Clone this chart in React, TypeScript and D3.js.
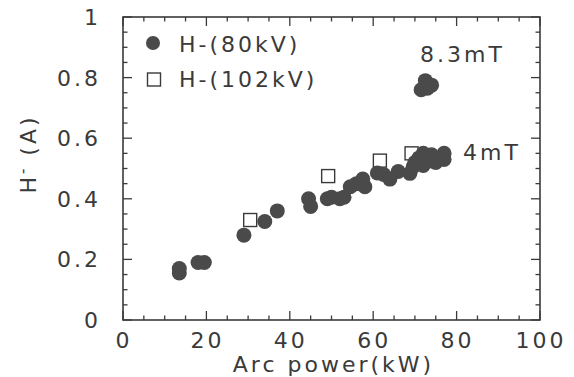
import React from 'react';
import * as d3 from 'd3';

// H- beam current vs arc power
const power80 = [13.5, 13.5, 18, 19.5, 29, 34, 37, 44.5, 45, 49, 50, 52, 53, 54.5, 56, 57.5, 58, 61, 62.5, 64, 66, 68.8, 69.6,
  70, 71, 72, 73, 74, 75, 76, 77, 77, 72, 74, 71.5, 72.5, 74, 73];
const current80 = [0.17, 0.155, 0.19, 0.19, 0.28, 0.325, 0.36, 0.4, 0.375, 0.4, 0.405, 0.4, 0.405, 0.44, 0.45, 0.465, 0.44, 0.485, 0.48, 0.465, 0.49, 0.484, 0.506,
  0.52, 0.535, 0.51, 0.53, 0.525, 0.52, 0.535, 0.55, 0.53, 0.55, 0.545, 0.76, 0.79, 0.775, 0.765];
const power102 = [30.5, 49.2, 61.6, 69.2];
const current102 = [0.33, 0.475, 0.526, 0.55];

const xTicks = [0, 20, 40, 60, 80, 100];
const yTicks = [0, 0.2, 0.4, 0.6, 0.8, 1];
const xLabels = ['0', '20', '40', '60', '80', '100'];
const yLabels = ['0', '0.2', '0.4', '0.6', '0.8', '1'];

const W = 574, H = 377;
const margin = { top: 17, right: 34, bottom: 57, left: 123 };
const ink = '#3a3a3a';
const font = 'DejaVu Sans, sans-serif';

export default function App() {
  const x = d3.scaleLinear().domain([0, 100]).range([margin.left, W - margin.right]);
  const y = d3.scaleLinear().domain([0, 1]).range([H - margin.bottom, margin.top]);
  const [x0, x1] = x.range();
  const [y0, y1] = y.range();

  const xMinor = d3.range(0, 100.01, 5);
  const yMinor = d3.range(0, 1.001, 0.05);
  const isMajorX = (v: number) => Math.abs(v % 20) < 0.01;
  const isMajorY = (v: number) => Math.abs(Math.round(v * 100) % 20) < 0.5;

  const textStyle = { fontFamily: font, fontSize: 22, fill: ink, letterSpacing: 3 };

  return (
    <svg width={W} height={H} style={{ position: 'absolute', left: 0, top: 0, background: '#fff' }}>
      {/* ticks on all four sides, pointing in */}
      <g stroke={ink} strokeWidth={1.3}>
        {xMinor.map(v => {
          const len = isMajorX(v) ? 9 : 4.5;
          return (
            <g key={'x' + v}>
              <line x1={x(v)} x2={x(v)} y1={y0} y2={y0 - len} />
              <line x1={x(v)} x2={x(v)} y1={y1} y2={y1 + len} />
            </g>
          );
        })}
        {yMinor.map(v => {
          const len = isMajorY(v) ? 9 : 4.5;
          return (
            <g key={'y' + v}>
              <line x1={x0} x2={x0 + len} y1={y(v)} y2={y(v)} />
              <line x1={x1} x2={x1 - len} y1={y(v)} y2={y(v)} />
            </g>
          );
        })}
      </g>
      <rect x={x0} y={y1} width={x1 - x0} height={y0 - y1} fill="none" stroke={ink} strokeWidth={1.6} />

      {xTicks.map((v, i) => (
        <text key={'xl' + v} x={x(v) + 1} y={y0 + 28} textAnchor="middle" style={textStyle}>{xLabels[i]}</text>
      ))}
      {yTicks.map((v, i) => (
        <text key={'yl' + v} x={x0 - 22} y={y(v) + 8} textAnchor="end" style={textStyle}>{yLabels[i]}</text>
      ))}

      <text x={(x0 + x1) / 2 + 2} y={H - 5} textAnchor="middle" style={textStyle}>Arc power(kW)</text>
      <text transform={`translate(36,154) rotate(-90)`} textAnchor="middle" style={textStyle}>
        H<tspan dy={-8} fontSize={15}>-</tspan><tspan dy={8}> (A)</tspan>
      </text>

      {power102.map((p, i) => (
        <rect key={'s' + i} x={x(p) - 6.5} y={y(current102[i]) - 6.5} width={13} height={13}
          fill="#fff" stroke={ink} strokeWidth={1.4} />
      ))}
      {power80.map((p, i) => (
        <circle key={'c' + i} cx={x(p)} cy={y(current80[i])} r={7.5} fill="#4a4a4a" />
      ))}

      {/* legend */}
      <circle cx={153} cy={43} r={7} fill="#4a4a4a" />
      <text x={179} y={52} style={textStyle}>H-(80kV)</text>
      <rect x={147.5} y={73} width={13} height={13} fill="#fff" stroke={ink} strokeWidth={1.4} />
      <text x={179} y={87} style={textStyle}>H-(102kV)</text>

      <text x={420} y={62} style={textStyle}>8.3mT</text>
      <text x={463} y={160} style={textStyle}>4mT</text>
    </svg>
  );
}
